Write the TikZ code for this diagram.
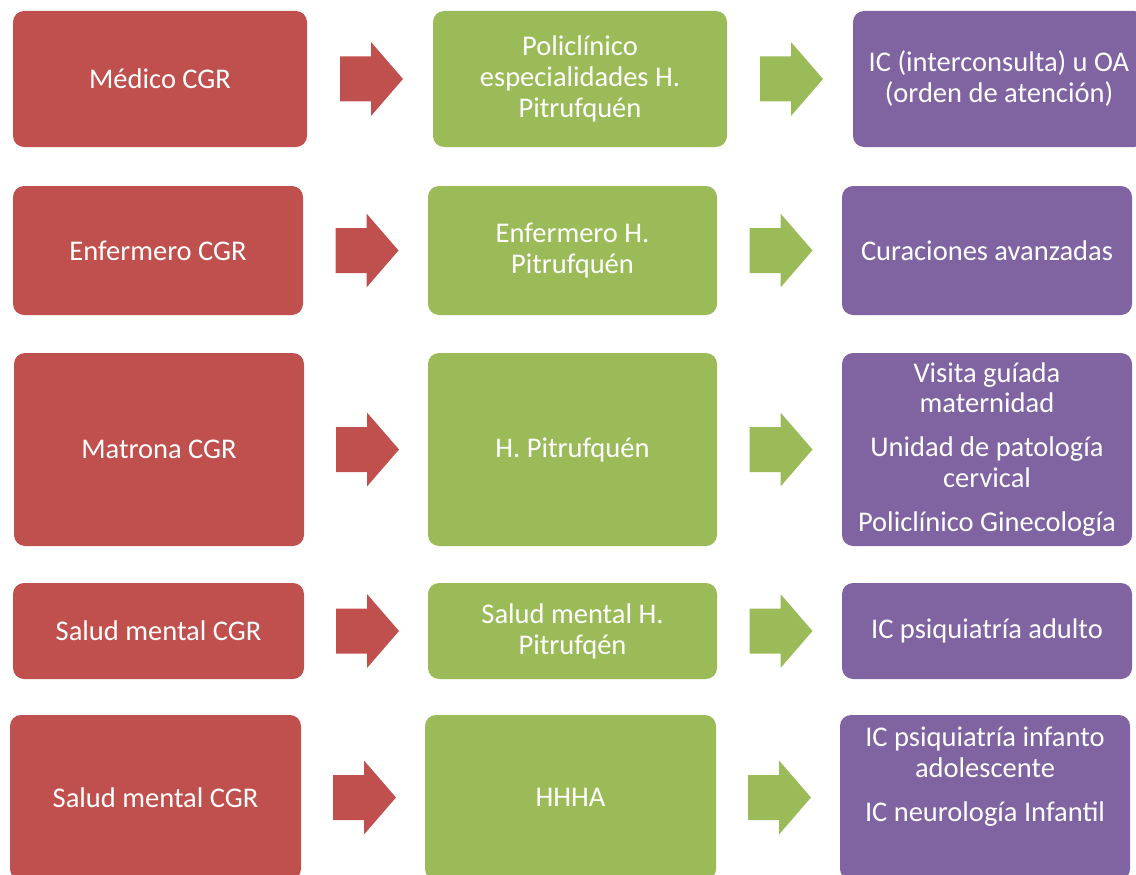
\documentclass[tikz,border=0pt]{standalone}
\usepackage{fontspec}
\setmainfont{Carlito}
\usetikzlibrary{calc}
\definecolor{cred}{HTML}{C0504D}
\definecolor{cgreen}{HTML}{9BBB59}
\definecolor{cpurple}{HTML}{8064A2}
\newcommand\blkarrow[3]{%
  \coordinate (m) at ($(#1.east)!0.5!(#2.west)+(1.5,0)$);
  \fill[#3] ([shift={(-31.5,-22.5)}]m) -- ([shift={(-0.5,-22.5)}]m) -- ([shift={(-0.5,-37)}]m)
    -- ([shift={(31.5,0)}]m) -- ([shift={(-0.5,37)}]m) -- ([shift={(-0.5,22.5)}]m)
    -- ([shift={(-31.5,22.5)}]m) -- cycle;}
\begin{document}
\begin{tikzpicture}[x=1pt,y=-1pt,
  box/.style={rounded corners=11pt, inner sep=0pt, text=white, align=center,
    font=\fontsize{28.5}{31}\selectfont},
  txt/.style={inner sep=0pt, text=white, align=center, font=\fontsize{28.5}{31}\selectfont},
  rbox/.style={box, fill=cred},
  gbox/.style={box, fill=cgreen},
  pbox/.style={box, fill=cpurple}]
\useasboundingbox (0,0) rectangle (1136,875);
% row 1
\node[rbox, minimum width=294pt, minimum height=136pt] (r1) at (160,79) {Médico CGR};
\node[gbox, minimum width=294pt, minimum height=136pt] (g1) at (580,79) {Policlínico\\especialidades H.\\Pitrufquén};
\node[pbox, minimum width=292pt, minimum height=136pt] (p1) at (999,79) {IC (interconsulta) u OA\\(orden de atención)};
% row 2
\node[rbox, minimum width=290pt, minimum height=129pt] (r2) at (158,250.5) {Enfermero CGR};
\node[gbox, minimum width=289pt, minimum height=129pt] (g2) at (572.5,250.5) {Enfermero H.\\Pitrufquén};
\node[pbox, minimum width=290pt, minimum height=129pt] (p2) at (987,250.5) {Curaciones avanzadas};
% row 3
\node[rbox, minimum width=290pt, minimum height=193pt] (r3) at (159,449.5) {Matrona CGR};
\node[gbox, minimum width=289pt, minimum height=193pt] (g3) at (572.5,449.5) {H. Pitrufquén};
\node[pbox, minimum width=290pt, minimum height=193pt, font=\fontsize{28.5}{30.5}\selectfont] (p3) at (987,449.5)
  {Visita guíada\\maternidad\\[13.5pt]Unidad de patología\\cervical\\[13.5pt]Policlínico Ginecología};
% row 4
\node[rbox, minimum width=291pt, minimum height=96pt] (r4) at (158.5,631) {Salud mental CGR};
\node[gbox, minimum width=289pt, minimum height=96pt] (g4) at (572.5,631) {Salud mental H.\\Pitrufqén};
\node[pbox, minimum width=290pt, minimum height=96pt] (p4) at (987,631) {IC psiquiatría adulto};
% row 5
\node[rbox, minimum width=291pt, minimum height=165pt] (r5) at (155.5,797.5) {Salud mental CGR};
\node[gbox, minimum width=291pt, minimum height=165pt] (g5) at (570.5,797.5) {HHHA};
\node[pbox, minimum width=290pt, minimum height=165pt] (p5) at (985,797.5) {};
\node[txt, font=\fontsize{28.5}{30.5}\selectfont] (p5t) at (985,776.5)
  {IC psiquiatría infanto\\adolescente\\[13.5pt]IC neurología Infantil};
% arrows
\blkarrow{r1}{g1}{cred}
\blkarrow{g1}{p1}{cgreen}
\blkarrow{r2}{g2}{cred}
\blkarrow{g2}{p2}{cgreen}
\blkarrow{r3}{g3}{cred}
\blkarrow{g3}{p3}{cgreen}
\blkarrow{r4}{g4}{cred}
\blkarrow{g4}{p4}{cgreen}
\blkarrow{r5}{g5}{cred}
\blkarrow{g5}{p5}{cgreen}
\end{tikzpicture}
\end{document}
